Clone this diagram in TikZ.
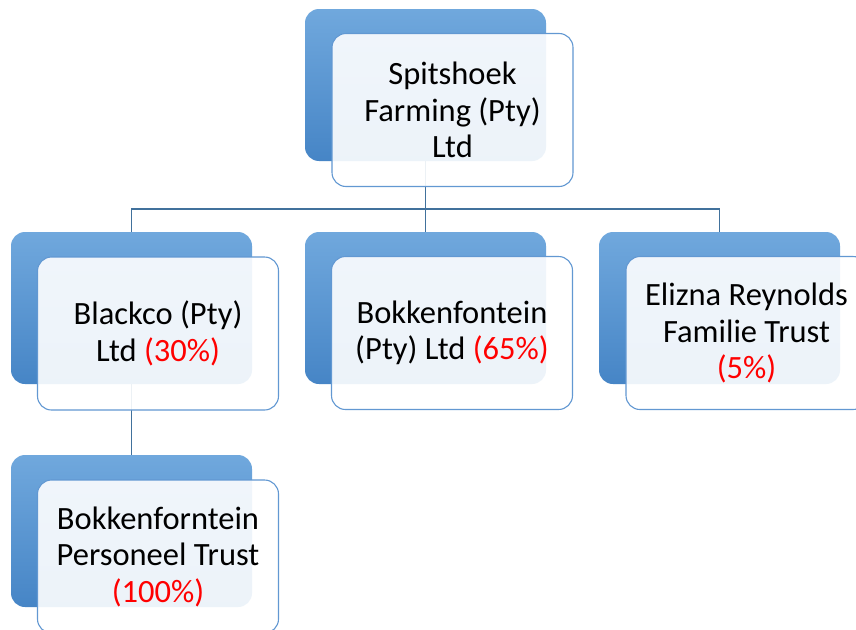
\documentclass[tikz,border=0pt]{standalone}
\usepackage{fontspec}
\setmainfont{Carlito}
\usepackage{tikz}
\definecolor{boxtop}{RGB}{112,168,221}
\definecolor{boxbot}{RGB}{70,133,198}
\definecolor{boxline}{RGB}{98,152,210}
\definecolor{connline}{RGB}{65,113,156}
\definecolor{pct}{RGB}{255,0,0}

\tikzset{
  backbox/.style={rectangle, rounded corners=14pt, minimum width=241pt, minimum height=152pt,
    inner sep=0pt, top color=boxtop, bottom color=boxbot, draw=none},
  frontbox/.style={rectangle, rounded corners=14pt, minimum width=241pt, minimum height=153pt,
    inner sep=0pt, draw=boxline, line width=1.1pt, fill=white, fill opacity=0.9, text opacity=1,
    align=center, font=\fontsize{32.5}{36.5}\selectfont},
  conn/.style={draw=connline, line width=1.1pt}
}

\begin{document}
\begin{tikzpicture}[x=1pt,y=-1pt]
  \useasboundingbox (0,0) rectangle (856,629);
  \clip (0,0) rectangle (856,629);
  \fill[white] (0,0) rectangle (856,629);

  % back boxes
  \node[backbox] (spitb) at (425.5,85) {};
  \node[backbox] (blackb) at (131.5,308) {};
  \node[backbox] (bokkb) at (425.5,308) {};
  \node[backbox] (elizb) at (719.5,308) {};
  \node[backbox] (persb) at (131.5,531) {};

  % lines
  \coordinate (bus) at (0,209);
  \draw[conn] (spitb.south) -- (spitb.south |- bus);
  \draw[conn] (blackb.north) |- (bus -| elizb.north) -- (elizb.north);
  \draw[conn] (bokkb.north) -- (bokkb.north |- bus);
  \draw[conn] (blackb.south) -- (persb.north);

  % front boxes
  \node[frontbox] (spit) at (452.5,110) {Spitshoek\\Farming (Pty)\\Ltd};
  \node[frontbox] (black) at (158,333.5) {Blackco (Pty)\\Ltd \textcolor{pct}{(30\%)}};
  \node[frontbox] (bokk) at (452,333) {Bokkenfontein\\(Pty) Ltd \textcolor{pct}{(65\%)}};
  \node[frontbox] (eliz) at (746.5,333) {Elizna Reynolds\\Familie Trust\\\textcolor{pct}{(5\%)}};
  \node[frontbox] (pers) at (158,556.5) {Bokkenforntein\\Personeel Trust\\\textcolor{pct}{(100\%)}};

\end{tikzpicture}
\end{document}
